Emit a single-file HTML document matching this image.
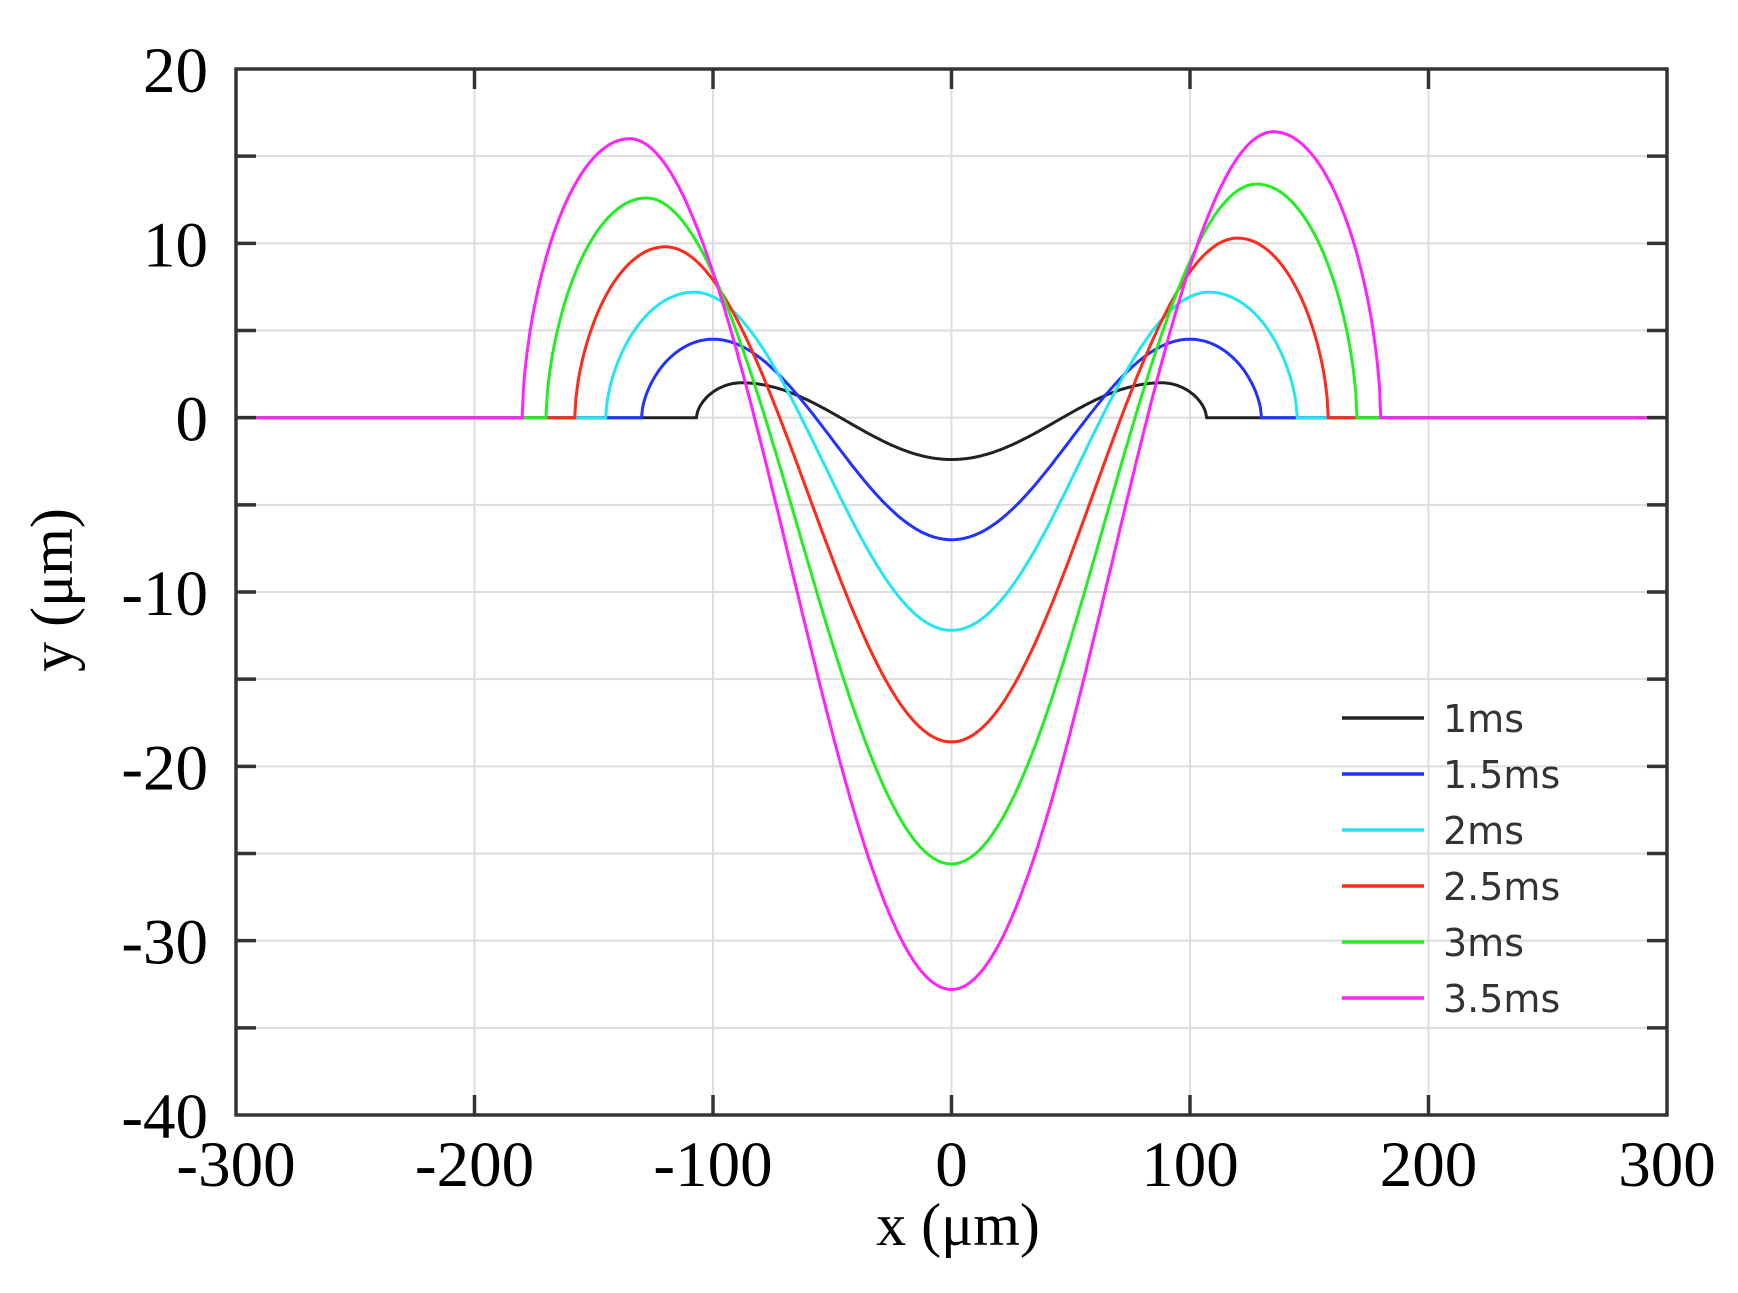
<!DOCTYPE html>
<html><head><meta charset="utf-8"><style>
html,body{margin:0;padding:0;background:#fff;}
svg{display:block;}
</style></head><body>
<svg id="s" width="1738" height="1293" xmlns="http://www.w3.org/2000/svg" font-family="Liberation Serif, serif">
</svg>
<script>
const L=236,R=1667,T=69,B=1115;
const X=v=>L+(v+300)*(R-L)/600, Y=v=>T+(20-v)*(B-T)/60;
let s='';
for(let v=-200;v<=200;v+=100) s+=`<line x1="${X(v)}" y1="${T}" x2="${X(v)}" y2="${B}" stroke="#ddd" stroke-width="2"/>`;
for(let v=15;v>=-35;v-=5) s+=`<line x1="${L}" y1="${Y(v)}" x2="${R}" y2="${Y(v)}" stroke="#ddd" stroke-width="2"/>`;
const C=[
 ['#222',2.4,2,2,88,107],
 ['#2233ff',7,4.5,4.5,100,130],
 ['#22e6f0',12.2,7.2,7.2,108,145],
 ['#ff2a1a',18.6,9.8,10.3,120,158],
 ['#22ee22',25.6,12.6,13.4,128,170],
 ['#ff22ff',32.8,16,16.4,135,180]];
function f(x,c){const[,d,hl,hr,xp,e]=c;const u=Math.abs(x);const h=x<0?hl:hr;
 if(u<=xp) return -d+(h+d)*(1-Math.cos(Math.PI*u/xp))/2;
 if(u<e){const t=(u-xp)/(e-xp);return h*Math.pow(Math.max(0,1-t*t),0.6);}
 return 0;}
for(const c of C){let p='';for(let x=-300;x<=300;x+=0.5){p+=(p?'L':'M')+X(x).toFixed(1)+' '+Y(f(x,c)).toFixed(1);}
 s+=`<path d="${p}" fill="none" stroke="${c[0]}" stroke-width="3"/>`;}
s+=`<rect x="${L}" y="${T}" width="${R-L}" height="${B-T}" fill="none" stroke="#333" stroke-width="3.5"/>`;
for(let v=-200;v<=200;v+=100){s+=`<line x1="${X(v)}" y1="${B}" x2="${X(v)}" y2="${B-20}" stroke="#333" stroke-width="3.5"/><line x1="${X(v)}" y1="${T}" x2="${X(v)}" y2="${T+20}" stroke="#333" stroke-width="3.5"/>`;}
for(let v=15;v>=-35;v-=5){s+=`<line x1="${L}" y1="${Y(v)}" x2="${L+20}" y2="${Y(v)}" stroke="#333" stroke-width="3.5"/><line x1="${R}" y1="${Y(v)}" x2="${R-20}" y2="${Y(v)}" stroke="#333" stroke-width="3.5"/>`;}
for(let v=20;v>=-40;v-=10) s+=`<text x="208" y="${Y(v)+23}" font-size="65" text-anchor="end">${v}</text>`;
for(let v=-300;v<=300;v+=100) s+=`<text x="${X(v)}" y="${1186}" font-size="65" text-anchor="middle">${v}</text>`;
s+=`<text x="958" y="1245" font-size="60" text-anchor="middle">x (μm)</text>`;
s+=`<text transform="translate(72,590) rotate(-90)" font-size="60" text-anchor="middle">y (μm)</text>`;
const N=['1ms','1.5ms','2ms','2.5ms','3ms','3.5ms'];
C.forEach((c,i)=>{const y=718+i*56;s+=`<line x1="1342" y1="${y}" x2="1424" y2="${y}" stroke="${c[0]}" stroke-width="3.5"/><text x="1443" y="${y+14}" font-size="38" font-family="DejaVu Sans, sans-serif" fill="#333">${N[i]}</text>`;});
document.getElementById('s').innerHTML=s;
</script>
</body></html>
